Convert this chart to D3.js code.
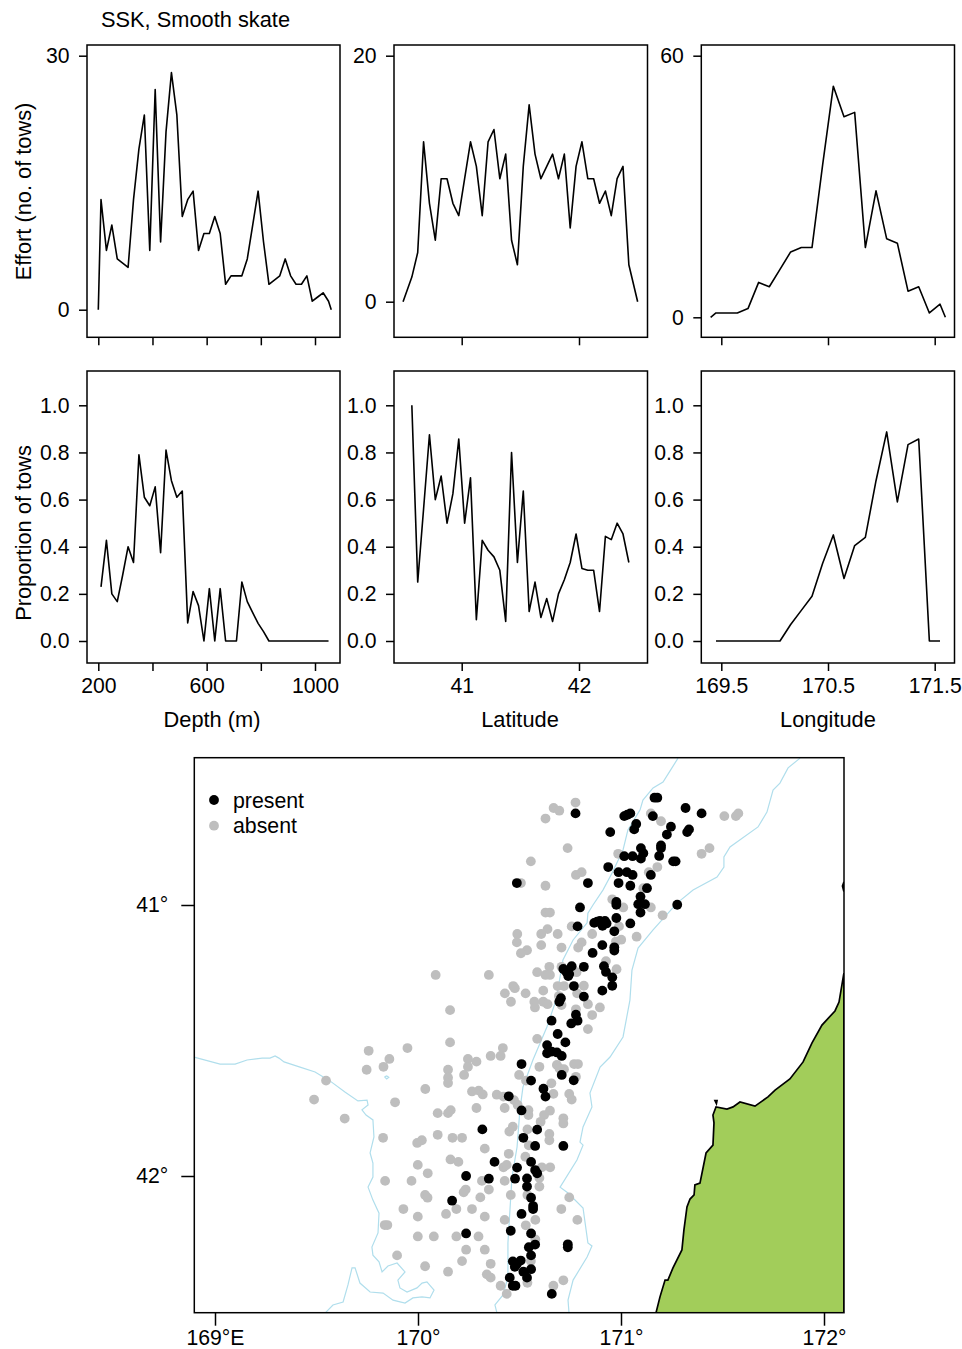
<!DOCTYPE html>
<html lang="en">
  <head>
    <title>SSK, Smooth skate</title>
    <script src="https://d3js.org/d3.v7.min.js"></script>
    <style>
      html, body { margin: 0; padding: 0; background: #fff; }
      svg { display: block; }
      text { font-family: "Liberation Sans", Arial, sans-serif; font-size: 21.8px; fill: #000; }
      .axis line { stroke: #000; stroke-width: 1.5; }
      .axis .domain { display: none; }
      .axis text { font-size: 21.2px; font-family: "Liberation Sans", Arial, sans-serif; }
      .legend text { font-size: 21.3px; }
      .box { fill: none; stroke: #000; stroke-width: 1.5; }
      .trace { fill: none; stroke: #000; stroke-width: 1.6; stroke-linejoin: round; }
      .contour { fill: none; stroke: #b0deec; stroke-width: 1.2; }
      .land { fill: #a2cd5a; stroke: #000; stroke-width: 1.7; }
    </style>
  </head>
  <body>
    <svg id="chart" width="962" height="1349"></svg>
    <script>

      // depth panels
      const depthBinsEffort = [200, 210, 230, 250, 270, 290, 310, 330, 350, 370, 390, 410, 430, 450, 470, 490, 510, 530, 550, 570, 590, 610, 630, 650, 670, 690, 710, 730, 750, 770, 790, 810, 830, 850, 870, 890, 910, 930, 950, 970, 990, 1010, 1030, 1050, 1060]
      const depthEffort = [0, 13, 7, 10, 6, 5.5, 5, 13, 19, 23, 7, 26, 8, 21, 28, 23, 11, 13, 14, 7, 9, 9, 11, 9, 3, 4, 4, 4, 6, 10, 14, 8, 3, 3.5, 4, 6, 4, 3, 3, 4, 1, 1.5, 2, 1, 0]
      const depthBinsProp = [210, 230, 250, 270, 290, 310, 330, 350, 370, 390, 410, 430, 450, 470, 490, 510, 530, 550, 570, 590, 610, 630, 650, 670, 690, 710, 730, 750, 770, 790, 810, 830, 850, 870, 890, 910, 930, 950, 970, 990, 1010, 1030, 1050]
      const depthProp = [0.23, 0.427, 0.2, 0.167, 0.28, 0.4, 0.333, 0.79, 0.61, 0.574, 0.654, 0.375, 0.81, 0.68, 0.61, 0.636, 0.077, 0.21, 0.15, 0, 0.222, 0, 0.222, 0, 0, 0, 0.25, 0.167, 0.12, 0.075, 0.04, 0, 0, 0, 0, 0, 0, 0, 0, 0, 0, 0, 0]

      // latitude panels
      const latBinsEffort = [40.5, 40.575, 40.625, 40.675, 40.725, 40.775, 40.825, 40.875, 40.925, 40.975, 41.025, 41.075, 41.125, 41.175, 41.225, 41.275, 41.325, 41.375, 41.425, 41.475, 41.525, 41.575, 41.625, 41.675, 41.725, 41.775, 41.825, 41.875, 41.925, 41.975, 42.025, 42.075, 42.125, 42.175, 42.225, 42.275, 42.325, 42.375, 42.425, 42.5]
      const latEffort = [0, 2, 4, 13, 8, 5, 10, 10, 8, 7, 10, 13, 11, 7, 13, 14, 10, 12, 5, 3, 11, 16, 12, 10, 11, 12, 10, 12, 6, 11, 13, 10, 10, 8, 9, 7, 10, 11, 3, 0]
      const latBinsProp = [40.575, 40.625, 40.675, 40.725, 40.775, 40.825, 40.875, 40.925, 40.975, 41.025, 41.075, 41.125, 41.175, 41.225, 41.275, 41.325, 41.375, 41.425, 41.475, 41.525, 41.575, 41.625, 41.675, 41.725, 41.775, 41.825, 41.875, 41.925, 41.975, 42.025, 42.075, 42.125, 42.175, 42.225, 42.275, 42.325, 42.375, 42.425]
      const latProp = [1, 0.25, 0.56, 0.875, 0.6, 0.7, 0.5, 0.625, 0.857, 0.5, 0.692, 0.09, 0.427, 0.385, 0.357, 0.3, 0.083, 0.8, 0.333, 0.636, 0.125, 0.25, 0.1, 0.18, 0.083, 0.2, 0.26, 0.333, 0.454, 0.308, 0.3, 0.3, 0.125, 0.444, 0.43, 0.5, 0.454, 0.333]

      // longitude panels
      const lonBinsEffort = [169.4, 169.45, 169.55, 169.65, 169.75, 169.85, 169.95, 170.05, 170.15, 170.25, 170.35, 170.45, 170.55, 170.65, 170.75, 170.85, 170.95, 171.05, 171.15, 171.25, 171.35, 171.45, 171.55, 171.6]
      const lonEffort = [0, 1, 1, 1, 2, 8, 7, 11, 15, 16, 16, 35, 53, 46, 47, 16, 29, 18, 17, 6, 7, 1, 3, 0]
      const lonBinsProp = [169.45, 169.55, 169.65, 169.75, 169.85, 169.95, 170.05, 170.15, 170.25, 170.35, 170.45, 170.55, 170.65, 170.75, 170.85, 170.95, 171.05, 171.15, 171.25, 171.35, 171.45, 171.55]
      const lonProp = [0, 0, 0, 0, 0, 0, 0, 0.07, 0.13, 0.19, 0.33, 0.45, 0.265, 0.405, 0.44, 0.68, 0.887, 0.59, 0.833, 0.857, 0, 0]

      const propTicks = [0, 0.2, 0.4, 0.6, 0.8, 1]
      const depthTicks = [200, 400, 600, 800, 1000]
      const depthTickLabels = ['200', '', '600', '', '1000']
      const latTicks = [41, 42]
      const lonTicks = [169.5, 170.5, 171.5]

      const mapLonTicks = [169, 170, 171, 172]
      const mapLonLabels = ['169°E', '170°', '171°', '172°']
      const mapLatTicks = [41, 42]
      const mapLatLabels = ['41°', '42°']

      // tow positions, [longitude, latitude south]
      const absentTows = [
        [170.776, 40.622], [170.668, 40.642], [170.696, 40.652], [170.628, 40.681], [171.147, 40.662], [171.197, 40.691],
        [171.509, 40.672], [171.566, 40.672], [171.578, 40.662], [170.737, 40.790], [170.556, 40.839], [170.986, 40.811],
        [171.397, 40.811], [171.436, 40.790], [171.179, 40.860], [171.137, 40.879], [170.778, 40.889], [170.806, 40.879],
        [170.507, 40.919], [170.628, 40.929], [171.110, 40.938], [170.957, 40.979], [171.011, 41.009], [171.147, 41.009],
        [171.205, 41.038], [170.628, 41.028], [170.650, 41.028], [170.757, 41.079], [170.990, 41.079], [170.858, 41.107],
        [171.077, 41.117], [170.638, 41.089], [170.607, 41.107], [170.489, 41.107], [170.688, 41.107], [170.487, 41.138],
        [170.607, 41.148], [171.001, 41.128], [170.975, 41.135], [170.806, 41.138], [170.789, 41.157], [170.707, 41.157],
        [170.537, 41.167], [170.507, 41.178], [170.647, 41.228], [170.926, 41.207], [170.978, 41.237], [170.587, 41.248],
        [170.628, 41.258], [170.650, 41.258], [170.781, 41.248], [170.707, 41.228], [170.349, 41.258], [170.469, 41.299],
        [170.477, 41.307], [170.428, 41.326], [170.530, 41.326], [170.617, 41.316], [170.688, 41.299], [170.719, 41.299],
        [170.817, 41.298], [170.784, 41.326], [170.694, 41.336], [170.573, 41.357], [170.576, 41.378], [170.458, 41.357],
        [170.617, 41.357], [170.638, 41.366], [170.707, 41.369], [170.837, 41.366], [170.896, 41.378], [170.778, 41.385],
        [170.858, 41.406], [170.837, 41.458], [170.587, 41.494],
        [170.087, 41.258], [170.158, 41.388], [170.158, 41.507], [169.757, 41.538], [169.948, 41.528], [170.418, 41.528],
        [170.407, 41.557], [170.358, 41.557], [169.859, 41.568], [169.830, 41.597], [169.747, 41.608], [170.246, 41.568],
        [170.288, 41.578], [170.246, 41.597], [170.227, 41.627], [170.148, 41.608], [170.148, 41.637], [170.148, 41.657],
        [169.547, 41.648], [170.036, 41.679], [169.488, 41.718], [169.887, 41.728], [169.639, 41.788], [170.266, 41.688],
        [170.299, 41.685], [170.319, 41.699], [170.388, 41.700], [170.421, 41.707], [170.473, 41.720], [170.491, 41.738],
        [170.288, 41.749], [170.427, 41.749], [170.097, 41.768], [170.148, 41.768], [170.161, 41.757], [170.544, 41.757],
        [170.544, 41.775], [169.828, 41.859], [170.097, 41.848], [170.170, 41.859], [170.217, 41.859], [169.996, 41.878],
        [170.019, 41.868], [170.450, 41.836], [170.467, 41.818], [170.329, 41.899], [170.447, 41.918], [170.529, 41.929],
        [170.160, 41.939], [170.199, 41.948], [169.999, 41.959], [170.048, 41.990], [170.421, 41.968], [170.437, 41.959],
        [170.610, 41.968], [170.651, 41.968], [169.838, 42.018], [169.968, 42.018], [170.315, 42.018], [170.427, 42.018],
        [170.235, 42.050], [170.225, 42.060], [170.349, 42.050], [170.035, 42.070], [170.047, 42.080], [170.307, 42.079],
        [170.457, 42.070], [170.539, 42.070], [169.928, 42.122], [170.189, 42.122], [170.266, 42.122], [170.138, 42.140],
        [169.999, 42.150], [170.329, 42.150], [170.427, 42.162], [170.578, 42.162], [170.531, 42.182], [169.836, 42.181],
        [169.849, 42.181], [169.999, 42.223], [170.078, 42.223], [170.189, 42.223], [170.298, 42.223], [170.578, 42.234],
        [170.237, 42.272], [170.329, 42.272], [169.897, 42.293], [170.217, 42.314], [170.358, 42.324], [170.556, 42.314],
        [170.035, 42.333], [170.148, 42.353], [170.339, 42.363], [170.358, 42.375], [170.539, 42.394], [170.407, 42.405],
        [170.437, 42.435], [170.667, 42.405], [170.716, 42.385], [170.598, 41.597], [170.684, 41.590], [170.697, 41.603],
        [170.719, 41.606], [170.769, 41.587], [170.788, 41.587], [170.498, 41.627], [170.657, 41.658], [170.778, 41.634],
        [170.667, 41.697], [170.745, 41.697], [170.757, 41.718], [170.532, 41.648], [170.650, 41.759], [170.621, 41.775],
        [170.604, 41.800], [170.716, 41.787], [170.716, 41.806], [170.539, 41.828], [170.647, 41.845], [170.647, 41.868],
        [170.546, 41.887], [170.598, 42.007], [170.598, 42.039], [170.745, 42.079], [170.706, 42.122], [170.785, 42.162]
      ]
      const presentTows = [
        [171.165, 40.604], [171.179, 40.604], [171.318, 40.642], [171.397, 40.662], [170.776, 40.662], [171.016, 40.672],
        [171.046, 40.662], [171.031, 40.667], [171.157, 40.672], [171.075, 40.701], [171.065, 40.721], [171.246, 40.711],
        [171.226, 40.740], [171.335, 40.721], [171.326, 40.731], [170.947, 40.731], [171.098, 40.790], [171.110, 40.809],
        [171.098, 40.829], [171.197, 40.780], [171.197, 40.790], [171.188, 40.819], [171.016, 40.820], [171.057, 40.820],
        [171.257, 40.839], [171.269, 40.839], [170.937, 40.860], [170.988, 40.879], [171.029, 40.879], [171.057, 40.889],
        [171.147, 40.889], [170.487, 40.919], [170.837, 40.919], [170.988, 40.919], [171.046, 40.929], [171.128, 40.938],
        [171.096, 40.969], [170.977, 40.989], [170.977, 40.999], [170.798, 41.009], [171.085, 40.997], [171.118, 40.997],
        [171.096, 41.028], [171.277, 40.999], [170.977, 41.048], [170.868, 41.066], [170.883, 41.061], [170.896, 41.059],
        [170.921, 41.059], [170.909, 41.077], [170.929, 41.068], [170.786, 41.079], [171.046, 41.068], [170.967, 41.097],
        [170.908, 41.148], [170.967, 41.156], [170.967, 41.168], [170.860, 41.177], [170.757, 41.226], [170.716, 41.236],
        [170.730, 41.246], [170.745, 41.255], [170.740, 41.262], [170.817, 41.228], [170.916, 41.226], [170.926, 41.247],
        [170.957, 41.267], [170.957, 41.298], [170.768, 41.299], [170.908, 41.316], [170.817, 41.338], [170.704, 41.344],
        [170.696, 41.357], [170.778, 41.405], [170.786, 41.427], [170.755, 41.437], [170.658, 41.427], [170.688, 41.476],
        [170.636, 41.517], [170.726, 41.507], [170.636, 41.547], [170.684, 41.544], [170.708, 41.557], [170.659, 41.541],
        [170.510, 41.587], [170.557, 41.648], [170.708, 41.627], [170.767, 41.647], [170.618, 41.678], [170.628, 41.707],
        [170.447, 41.706], [170.510, 41.758], [170.317, 41.828], [170.587, 41.829], [170.519, 41.859], [170.577, 41.889],
        [170.716, 41.889], [170.377, 41.948], [170.557, 41.948], [170.488, 41.969], [170.577, 41.978], [170.587, 41.990],
        [170.237, 42.000], [170.349, 42.010], [170.478, 42.010], [170.537, 42.009], [170.537, 42.039], [170.168, 42.091],
        [170.557, 42.080], [170.567, 42.111], [170.567, 42.122], [170.510, 42.140], [170.457, 42.202], [170.557, 42.212],
        [170.237, 42.212], [170.577, 42.253], [170.546, 42.263], [170.738, 42.252], [170.738, 42.263], [170.557, 42.293],
        [170.467, 42.315], [170.506, 42.312], [170.487, 42.325], [170.477, 42.335], [170.557, 42.344], [170.519, 42.353],
        [170.537, 42.375], [170.452, 42.375], [170.467, 42.405], [170.480, 42.405], [170.659, 42.435]
      ]

      // depth contours and coast, [longitude, latitude south]
      const contourWest = [
        [168.897, 41.561], [169.025, 41.587], [169.099, 41.587], [169.158, 41.572], [169.232, 41.565], [169.271, 41.565],
        [169.296, 41.557], [169.315, 41.565], [169.340, 41.579], [169.419, 41.598], [169.493, 41.616], [169.566, 41.649],
        [169.640, 41.690], [169.704, 41.723], [169.749, 41.720], [169.754, 41.738], [169.724, 41.756], [169.744, 41.775],
        [169.778, 41.793], [169.783, 41.856], [169.764, 41.915], [169.778, 41.952], [169.778, 42.004], [169.754, 42.041],
        [169.778, 42.089], [169.808, 42.137], [169.803, 42.210], [169.773, 42.262], [169.778, 42.292], [169.808, 42.317],
        [169.823, 42.354], [169.852, 42.332], [169.897, 42.321], [169.936, 42.354], [169.901, 42.384], [169.911, 42.413],
        [169.946, 42.428], [169.995, 42.413], [170.020, 42.395], [170.044, 42.391], [170.079, 42.421], [170.059, 42.450],
        [170.020, 42.446], [169.975, 42.450], [169.936, 42.469], [169.877, 42.458], [169.828, 42.432], [169.764, 42.428],
        [169.714, 42.395], [169.690, 42.339], [169.675, 42.339], [169.655, 42.402], [169.631, 42.465], [169.581, 42.476],
        [169.542, 42.506]
      ]
      const contourMiddle = [
        [171.281, 40.458], [171.251, 40.494], [171.207, 40.546], [171.158, 40.568], [171.108, 40.613], [171.094, 40.649],
        [171.034, 40.723], [171.010, 40.797], [170.956, 40.882], [170.911, 40.945], [170.862, 41.000], [170.837, 41.030],
        [170.833, 41.066], [170.764, 41.129], [170.714, 41.203], [170.680, 41.351], [170.635, 41.450], [170.566, 41.572],
        [170.517, 41.672], [170.502, 41.756], [170.488, 41.893], [170.463, 42.004], [170.453, 42.125], [170.443, 42.247],
        [170.443, 42.373], [170.419, 42.439], [170.379, 42.476], [170.389, 42.506]
      ]
      const contourEast = [
        [171.882, 40.458], [171.823, 40.494], [171.783, 40.550], [171.749, 40.576], [171.719, 40.657], [171.675, 40.712],
        [171.537, 40.786], [171.507, 40.823], [171.507, 40.860], [171.473, 40.897], [171.355, 40.945], [171.276, 40.993],
        [171.158, 41.092], [171.084, 41.159], [171.054, 41.240], [171.044, 41.351], [171.010, 41.487], [170.946, 41.561],
        [170.897, 41.598], [170.847, 41.694], [170.857, 41.745], [170.813, 41.819], [170.798, 41.875], [170.813, 41.886],
        [170.783, 41.941], [170.700, 42.041], [170.739, 42.063], [170.813, 42.118], [170.837, 42.247], [170.857, 42.258],
        [170.833, 42.299], [170.764, 42.384], [170.739, 42.458], [170.744, 42.506]
      ]
      const contourRing = [[169.835, 41.634], [169.846, 41.631], [169.856, 41.636], [169.846, 41.642], [169.835, 41.634]]

      const landMain = [
        [171.172, 42.506], [171.192, 42.446], [171.217, 42.384], [171.231, 42.384], [171.256, 42.339], [171.300, 42.273],
        [171.310, 42.199], [171.325, 42.114], [171.340, 42.085], [171.360, 42.070], [171.364, 42.033], [171.389, 42.026],
        [171.419, 41.915], [171.453, 41.886], [171.458, 41.804], [171.453, 41.775], [171.468, 41.745], [171.522, 41.753],
        [171.552, 41.745], [171.586, 41.727], [171.660, 41.742], [171.724, 41.708], [171.759, 41.683], [171.832, 41.642],
        [171.897, 41.579], [171.941, 41.509], [171.990, 41.443], [172.054, 41.391], [172.074, 41.358], [172.098, 41.251],
        [172.098, 42.506]
      ]
      const landIslet = [[171.463, 41.722], [171.473, 41.722], [171.470, 41.733]]
      const landNorth = [[172.098, 40.915], [172.091, 40.930], [172.098, 40.950]]

      const legendLabels = ['present', 'absent']
      const legendColors = ['#000', '#bebebe']

      const svg = d3.select('#chart')

      // one small panel: scales are set from two known tick positions
      function drawPanel(p) {
        const x = d3.scaleLinear().domain(p.xDomain).range(p.xRange)
        const y = d3.scaleLinear().domain(p.yDomain).range(p.yRange)
        const g = svg.append('g')

        const line = d3.line().x((d, i) => x(p.xs[i])).y(d => y(d))
        g.append('path').datum(p.ys).attr('class', 'trace').attr('d', line)

        g.append('rect')
          .attr('class', 'box')
          .attr('x', p.left).attr('y', p.top)
          .attr('width', p.right - p.left).attr('height', p.bottom - p.top)

        g.append('g')
          .attr('class', 'axis')
          .attr('transform', `translate(0,${p.bottom})`)
          .call(d3.axisBottom(x).tickValues(p.xTicks).tickSize(8).tickPadding(7)
            .tickFormat((d, i) => p.xLabels ? p.xLabels[i] : ''))

        g.append('g')
          .attr('class', 'axis')
          .attr('transform', `translate(${p.left},0)`)
          .call(d3.axisLeft(y).tickValues(p.yTicks).tickSize(8).tickPadding(9.5)
            .tickFormat(p.yFormat))
      }

      const columns = [
        { left: 87, right: 340, xDomain: [200, 1000], xRange: [98.3, 315], xTicks: depthTicks, labels: depthTickLabels },
        { left: 394, right: 647.5, xDomain: [41, 42], xRange: [461.7, 579], xTicks: latTicks, labels: ['41', '42'] },
        { left: 701.3, right: 954.5, xDomain: [169.5, 171.5], xRange: [721.3, 934.7], xTicks: lonTicks, labels: ['169.5', '170.5', '171.5'] }
      ]
      const effortRows = [
        { xs: depthBinsEffort, ys: depthEffort, yDomain: [0, 30], yRange: [309.7, 55.7], yTicks: [0, 30] },
        { xs: latBinsEffort, ys: latEffort, yDomain: [0, 20], yRange: [301.7, 55.7], yTicks: [0, 20] },
        { xs: lonBinsEffort, ys: lonEffort, yDomain: [0, 60], yRange: [317.3, 55.7], yTicks: [0, 60] }
      ]
      const propRows = [
        { xs: depthBinsProp, ys: depthProp },
        { xs: latBinsProp, ys: latProp },
        { xs: lonBinsProp, ys: lonProp }
      ]

      columns.forEach((c, i) => {
        drawPanel({ ...c, ...effortRows[i], top: 45, bottom: 337.3, yFormat: d3.format('d') })
        drawPanel({
          ...c, ...propRows[i], top: 371, bottom: 663, xLabels: c.labels,
          yDomain: [0, 1], yRange: [641, 405.3], yTicks: propTicks, yFormat: d3.format('.1f')
        })
      })

      svg.append('text').attr('x', 101).attr('y', 27).text('SSK, Smooth skate')
      svg.append('text').attr('text-anchor', 'middle')
        .attr('transform', 'translate(31,191.5) rotate(-90)').text('Effort (no. of tows)')
      svg.append('text').attr('text-anchor', 'middle')
        .attr('transform', 'translate(31,533) rotate(-90)').text('Proportion of tows')
      const xTitles = [['Depth (m)', 212], ['Latitude', 520], ['Longitude', 828]]
      svg.selectAll('.xtitle').data(xTitles).join('text')
        .attr('class', 'xtitle')
        .attr('text-anchor', 'middle')
        .attr('x', d => d[1]).attr('y', 727)
        .text(d => d[0])

      // map
      const mapBox = { left: 194.3, right: 844, top: 757.7, bottom: 1312.7 }
      const mapX = d3.scaleLinear().domain([169, 172]).range([215, 824])
      const mapY = d3.scaleLinear().domain([41, 42]).range([905, 1176])
      const mapLine = d3.line().x(d => mapX(d[0])).y(d => mapY(d[1]))

      svg.append('clipPath').attr('id', 'map-clip').append('rect')
        .attr('x', mapBox.left).attr('y', mapBox.top)
        .attr('width', mapBox.right - mapBox.left).attr('height', mapBox.bottom - mapBox.top)

      const map = svg.append('g').attr('clip-path', 'url(#map-clip)')

      map.selectAll('.contour')
        .data([contourWest, contourMiddle, contourEast, contourRing])
        .join('path')
        .attr('class', 'contour')
        .attr('d', mapLine)

      map.selectAll('.land')
        .data([landMain, landIslet, landNorth])
        .join('path')
        .attr('class', 'land')
        .attr('d', d => mapLine(d) + 'Z')

      map.selectAll('.absent')
        .data(absentTows)
        .join('circle')
        .attr('class', 'absent')
        .attr('cx', d => mapX(d[0])).attr('cy', d => mapY(d[1]))
        .attr('r', 4.9)
        .attr('fill', legendColors[1])

      map.selectAll('.present')
        .data(presentTows)
        .join('circle')
        .attr('class', 'present')
        .attr('cx', d => mapX(d[0])).attr('cy', d => mapY(d[1]))
        .attr('r', 4.9)
        .attr('fill', legendColors[0])

      svg.append('rect')
        .attr('class', 'box')
        .attr('x', mapBox.left).attr('y', mapBox.top)
        .attr('width', mapBox.right - mapBox.left).attr('height', mapBox.bottom - mapBox.top)

      svg.append('g')
        .attr('class', 'axis')
        .attr('transform', `translate(0,${mapBox.bottom})`)
        .call(d3.axisBottom(mapX).tickValues(mapLonTicks).tickSize(13).tickPadding(4)
          .tickFormat((d, i) => mapLonLabels[i]))

      svg.append('g')
        .attr('class', 'axis')
        .attr('transform', `translate(${mapBox.left},0)`)
        .call(d3.axisLeft(mapY).tickValues(mapLatTicks).tickSize(13).tickPadding(13)
          .tickFormat((d, i) => mapLatLabels[i]))

      const legend = svg.selectAll('.legend')
        .data(legendLabels)
        .join('g')
        .attr('class', 'legend')
        .attr('transform', (d, i) => `translate(214,${800 + i * 25.7})`)
      legend.append('circle').attr('r', 4.9).attr('fill', (d, i) => legendColors[i])
      legend.append('text').attr('x', 19).attr('y', 7.5).text(d => d)
    </script>
  </body>
</html>
